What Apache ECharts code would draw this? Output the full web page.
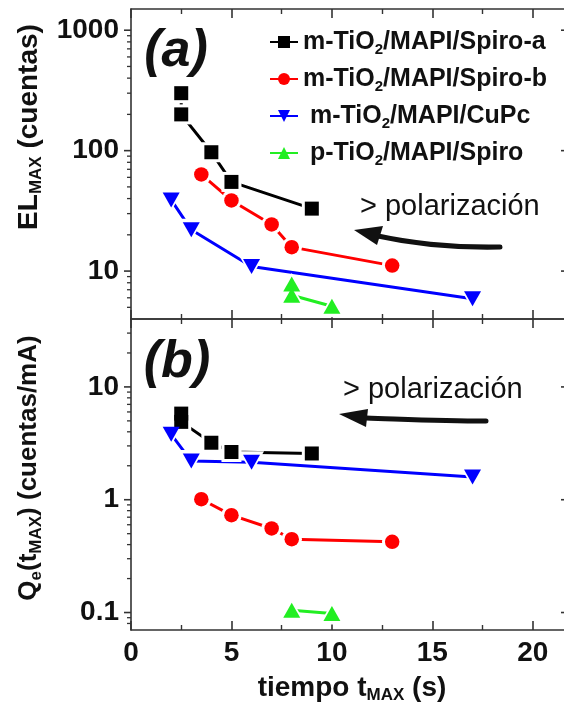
<!DOCTYPE html>
<html>
<head>
<meta charset="utf-8">
<script src="https://cdn.jsdelivr.net/npm/echarts@6/dist/echarts.min.js"></script>
<style>
  html, body { margin: 0; padding: 0; background: #fff; }
  #chart { width: 564px; height: 722px; }
</style>
</head>
<body>
<div id="chart"></div>
<script>
// Electroluminescence maximum and emitted charge per current vs. time to the maximum
const seriesNames = ['m-TiO2/MAPI/Spiro-a', 'm-TiO2/MAPI/Spiro-b', 'm-TiO2/MAPI/CuPc', 'p-TiO2/MAPI/Spiro'];

// m-TiO2/MAPI/Spiro-a
const tiempoA = [2.5, 2.5, 4, 5, 9];
const elA = [300, 200, 97, 55, 33];
const qeA = [5.8, 4.9, 3.2, 2.65, 2.57];
// m-TiO2/MAPI/Spiro-b
const tiempoB = [3.5, 5, 7, 8, 13];
const elB = [63.5, 38.6, 24.4, 15.8, 11.1];
const qeB = [1.01, 0.73, 0.556, 0.447, 0.423];
// m-TiO2/MAPI/CuPc
const tiempoC = [2, 3, 6, 17];
const elC = [39, 22, 10.9, 5.9];
const qeC = [3.8, 2.2, 2.15, 1.59];
// p-TiO2/MAPI/Spiro
const tiempoD = [8, 8, 10];
const elD = [7.8, 6.3, 5.1];
const tiempoDq = [8, 10];
const qeD = [0.105, 0.098];

// axis ticks
const elTicks = [10, 100, 1000];
const elMinorTicks = [5, 6, 7, 8, 9, 20, 30, 40, 50, 60, 70, 80, 90, 200, 300, 400, 500, 600, 700, 800, 900];
const qeTicks = [0.1, 1, 10];
const qeMinorTicks = [0.08, 0.09, 0.2, 0.3, 0.4, 0.5, 0.6, 0.7, 0.8, 0.9, 2, 3, 4, 5, 6, 7, 8, 9, 20, 30];

const FONT = '"Liberation Sans", Arial, Helvetica, sans-serif';
const AX = '#333';
const X_MAX = 22;

const marks = [
  { color: '#000000', symbol: 'rect', size: 14, halo: 20, rotate: 0 },
  { color: '#ff0000', symbol: 'circle', size: 14.5, halo: 20.5, rotate: 0 },
  { color: '#0000ff', symbol: 'triangle', size: [17, 15], halo: [25, 22], rotate: 180 },
  { color: '#22ee22', symbol: 'triangle', size: [17, 15], halo: [25, 22], rotate: 0 }
];

// each data set: a connecting line, a white halo that opens a gap in the lines, then the coloured markers
function seriesFor(k, xs, ys, panel) {
  const m = marks[k];
  const data = xs.map((x, i) => [x, ys[i]]);
  const common = { xAxisIndex: panel * 2, yAxisIndex: panel, data: data, symbol: m.symbol, symbolRotate: m.rotate, silent: true, emphasis: { disabled: true } };
  return [
    Object.assign({}, common, {
      name: seriesNames[k], type: 'line', z: 2,
      symbolSize: m.size, showAllSymbol: true,
      lineStyle: { color: m.color, width: 3 },
      itemStyle: { color: m.color }
    }),
    Object.assign({}, common, {
      name: 'gap ' + k, type: 'scatter', z: 3,
      symbolSize: m.halo, itemStyle: { color: '#fff', opacity: 1 }
    }),
    Object.assign({}, common, {
      name: 'marker ' + k, type: 'scatter', z: 4,
      symbolSize: m.size, itemStyle: { color: m.color, opacity: 1 }
    })
  ];
}

function xAxisDef(grid, pos, labels) {
  return {
    type: 'value', gridIndex: grid, position: pos, min: 0, max: X_MAX, interval: 5,
    axisLine: { show: true, onZero: false, lineStyle: { color: AX, width: 1.6 } },
    axisTick: { show: true, inside: true, length: 9, lineStyle: { color: AX, width: 1.6 } },
    minorTick: { show: true, splitNumber: 2, length: 5, lineStyle: { color: AX, width: 1.4 } },
    splitLine: { show: false },
    axisLabel: {
      show: labels, margin: 9, showMaxLabel: false,
      fontFamily: FONT, fontWeight: 'bold', fontSize: 28, color: '#111'
    }
  };
}

function yAxisDef(grid, min, max, ticks) {
  return {
    type: 'log', logBase: 10, gridIndex: grid, position: 'left', min: min, max: max,
    axisLine: { show: true, lineStyle: { color: AX, width: 1.6 } },
    axisTick: { show: false },
    splitLine: { show: false },
    axisLabel: {
      show: true, margin: 12, customValues: ticks,
      formatter: v => String(Number(Number(v).toPrecision(4))),
      fontFamily: FONT, fontWeight: 'bold', fontSize: 28, color: '#111'
    }
  };
}

const legendNames = {
  'm-TiO2/MAPI/Spiro-a': 'm-TiO{s|2}/MAPI/Spiro-a',
  'm-TiO2/MAPI/Spiro-b': 'm-TiO{s|2}/MAPI/Spiro-b',
  'm-TiO2/MAPI/CuPc': ' m-TiO{s|2}/MAPI/CuPc',
  'p-TiO2/MAPI/Spiro': ' p-TiO{s|2}/MAPI/Spiro'
};

const chart = echarts.init(document.getElementById('chart'), null, { renderer: 'canvas' });

chart.setOption({
  animation: false,
  backgroundColor: '#fff',
  grid: [
    { left: 131, width: 442, top: 9, height: 310, outerBoundsMode: 'none', containLabel: false },
    { left: 131, width: 442, top: 319, height: 311, outerBoundsMode: 'none', containLabel: false }
  ],
  xAxis: [
    xAxisDef(0, 'bottom', false),
    xAxisDef(0, 'top', false),
    Object.assign(xAxisDef(1, 'bottom', true), {
      name: 'tiempo t{s|MAX} (s)',
      nameLocation: 'middle',
      nameGap: 42,
      nameTextStyle: {
        fontFamily: FONT, fontWeight: 'bold', fontSize: 28, color: '#111', lineHeight: 32,
        rich: { s: { fontFamily: FONT, fontWeight: 'bold', fontSize: 17, color: '#111', lineHeight: 16, verticalAlign: 'bottom' } }
      }
    }),
    xAxisDef(1, 'top', false)
  ],
  yAxis: [
    yAxisDef(0, 4, 1500, elTicks),
    yAxisDef(1, 0.07, 40, qeTicks)
  ],
  legend: {
    orient: 'vertical',
    left: 269,
    top: 27,
    padding: 0,
    itemGap: 7,
    itemWidth: 28,
    itemHeight: 15,
    data: seriesNames,
    selectedMode: false,
    formatter: n => legendNames[n],
    textStyle: {
      fontFamily: FONT, fontWeight: 'bold', fontSize: 25, color: '#111', lineHeight: 30,
      rich: { s: { fontFamily: FONT, fontWeight: 'bold', fontSize: 15, color: '#111', lineHeight: 14, verticalAlign: 'bottom' } }
    }
  },
  series: [].concat(
    seriesFor(0, tiempoA, elA, 0),
    seriesFor(1, tiempoB, elB, 0),
    seriesFor(2, tiempoC, elC, 0),
    seriesFor(3, tiempoD, elD, 0),
    seriesFor(0, tiempoA, qeA, 1),
    seriesFor(1, tiempoB, qeB, 1),
    seriesFor(2, tiempoC, qeC, 1),
    seriesFor(3, tiempoDq, qeD, 1)
  )
});

// log-axis tick marks, placed through the axes' own scales
const tickLines = [];
function addYTicks(yIdx, values, len, side) {
  const xL = chart.convertToPixel({ xAxisIndex: yIdx * 2 }, 0);
  const xR = chart.convertToPixel({ xAxisIndex: yIdx * 2 }, X_MAX);
  values.forEach(v => {
    const y = chart.convertToPixel({ yAxisIndex: yIdx }, v);
    const x1 = side === 'left' ? xL - len : xR - len;
    const x2 = side === 'left' ? xL : xR;
    tickLines.push({
      type: 'line', z: 10, silent: true,
      shape: { x1: x1, y1: y, x2: x2, y2: y },
      style: { stroke: AX, lineWidth: len > 5 ? 1.6 : 1.3 }
    });
  });
}
addYTicks(0, elTicks, 7, 'left');
addYTicks(0, elMinorTicks, 4, 'left');
addYTicks(0, elTicks, 12, 'right');
addYTicks(1, qeTicks, 7, 'left');
addYTicks(1, qeMinorTicks, 4, 'left');
addYTicks(1, qeTicks, 12, 'right');

const textEls = [
  // panel letters
  { type: 'text', x: 176, y: 52, z: 20,
    style: { text: '(a)', font: 'italic bold 52px ' + FONT, fill: '#111', align: 'center', verticalAlign: 'middle' } },
  { type: 'text', x: 177, y: 363, z: 20,
    style: { text: '(b)', font: 'italic bold 52px ' + FONT, fill: '#111', align: 'center', verticalAlign: 'middle' } },
  // y axis titles
  { type: 'text', x: 29, y: 127, rotation: Math.PI / 2, z: 20,
    style: {
      text: 'EL{s|MAX} (cuentas)', font: 'bold 28px ' + FONT, fill: '#111', align: 'center', verticalAlign: 'middle', lineHeight: 32,
      rich: { s: { font: 'bold 17px ' + FONT, fill: '#111', lineHeight: 16, verticalAlign: 'bottom' } }
    } },
  { type: 'text', x: 29, y: 468, rotation: Math.PI / 2, z: 20,
    style: {
      text: 'Q{s|e}(t{s|MAX}) (cuentas/mA)', font: 'bold 26px ' + FONT, fill: '#111', align: 'center', verticalAlign: 'middle', lineHeight: 32,
      rich: { s: { font: 'bold 17px ' + FONT, fill: '#111', lineHeight: 16, verticalAlign: 'bottom' } }
    } },
  // polarization annotations
  { type: 'text', x: 360, y: 207, z: 20,
    style: { text: '> polarización', font: '29px ' + FONT, fill: '#111', align: 'left', verticalAlign: 'middle' } },
  { type: 'bezierCurve', z: 20,
    shape: { x1: 500, y1: 247, cpx1: 450, cpy1: 248, cpx2: 405, cpy2: 242, x2: 378, y2: 236 },
    style: { stroke: '#111', lineWidth: 5, fill: null, lineCap: 'round' } },
  { type: 'polygon', z: 20,
    shape: { points: [[354, 230], [383, 226], [377, 245]] },
    style: { fill: '#111' } },
  { type: 'text', x: 343, y: 390, z: 20,
    style: { text: '> polarización', font: '29px ' + FONT, fill: '#111', align: 'left', verticalAlign: 'middle' } },
  { type: 'bezierCurve', z: 20,
    shape: { x1: 486, y1: 421, cpx1: 440, cpy1: 421, cpx2: 400, cpy2: 419, x2: 366, y2: 418 },
    style: { stroke: '#111', lineWidth: 5, fill: null, lineCap: 'round' } },
  { type: 'polygon', z: 20,
    shape: { points: [[339, 414], [368, 409], [366, 427]] },
    style: { fill: '#111' } }
];

chart.setOption({ graphic: textEls.concat(tickLines) });
</script>
</body>
</html>
